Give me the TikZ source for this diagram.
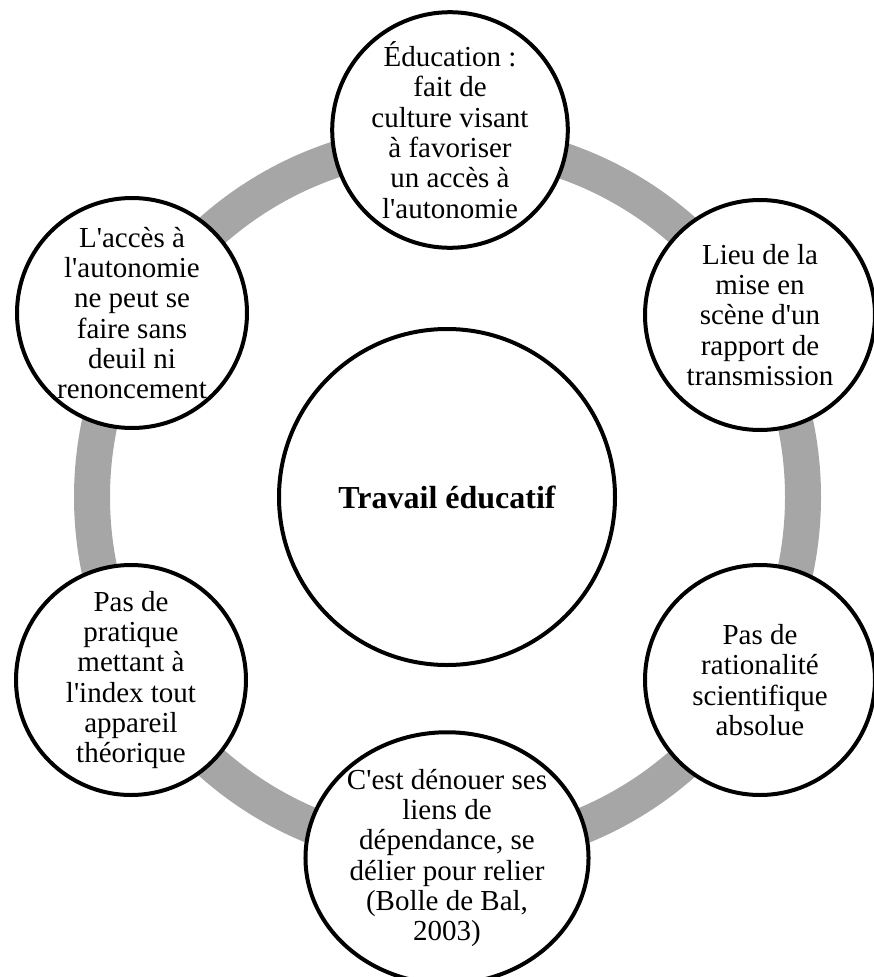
\documentclass[tikz,border=0pt]{standalone}
\usepackage{fontspec}
\setmainfont{Liberation Serif}[Ligatures=TeXOff]
\usetikzlibrary{shapes.geometric}
\definecolor{ringgray}{RGB}{166,166,166}
\tikzset{
  bubble/.style={circle, draw=black, line width=4pt, fill=white, inner sep=0pt,
    minimum size=230pt, align=center, font=\fontsize{29}{30.3}\selectfont},
  hub/.style={circle, draw=black, line width=4pt, fill=white, inner sep=0pt,
    minimum size=336pt, align=center, font=\fontsize{32}{34}\selectfont\bfseries},
  oval/.style={ellipse, draw=black, line width=4pt, fill=white, inner sep=0pt,
    minimum width=282pt, minimum height=226pt, align=center, font=\fontsize{29}{30.3}\selectfont},
  ring/.style={draw=ringgray, line width=36pt}
}
\begin{document}
\begin{tikzpicture}[x=1pt,y=-1pt]
\useasboundingbox (0,0) rectangle (874,977);
\coordinate (c0) at (447.5,497);
\draw[ring] (c0) circle (355.5);
\node[hub] (center) at (447,497) {Travail éducatif};
\node[bubble] (top) at (450,130) {Éducation :\\fait de\\culture visant\\à favoriser\\un accès à\\l'autonomie};
\node[bubble] (rt) at (760,315) {Lieu de la\\mise en\\scène d'un\\rapport de\\transmission};
\node[bubble] (rb) at (760,680) {Pas de\\rationalité\\scientifique\\absolue};
\node[oval] (bot) at (447,858) {C'est dénouer ses\\liens de\\dépendance, se\\délier pour relier\\(Bolle de Bal,\\2003)};
\node[bubble] (lb) at (131,680) {Pas de\\pratique\\mettant à\\l'index tout\\appareil\\théorique};
\node[bubble] (lt) at (132,313) {L'accès à\\l'autonomie\\ne peut se\\faire sans\\deuil ni\\renoncement};
\end{tikzpicture}
\end{document}
